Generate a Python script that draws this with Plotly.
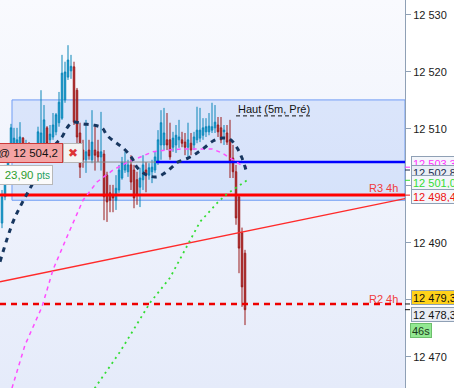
import base64
import plotly.graph_objects as go

# ---------------- data ----------------
candle_index = list(range(82))
opens = [12493.5, 12498.1, 12501.9, 12506.3, 12507.2, 12506.7, 12506.8, 12508.4, 12506.0, 12507.2,
         12505.8, 12505.4, 12506.0, 12506.8, 12506.8, 12510.2, 12508.1, 12508.6, 12509.5, 12511.1,
         12511.9, 12515.1, 12519.1, 12520.2, 12520.9, 12516.8, 12509.3, 12506.3, 12504.6, 12506.3,
         12504.6, 12506.3, 12506.0, 12505.1, 12505.6, 12501.9, 12498.8, 12498.4, 12497.5, 12499.3,
         12501.4, 12502.8, 12502.5, 12503.7, 12502.8, 12501.1, 12499.8, 12501.1, 12502.8, 12501.9,
         12502.5, 12502.8, 12504.2, 12507.2, 12507.2, 12508.1, 12508.1, 12506.8, 12507.2, 12508.1,
         12508.1, 12507.7, 12506.8, 12507.5, 12507.2, 12508.1, 12508.4, 12508.9, 12509.5, 12509.5,
         12509.8, 12510.2, 12510.7, 12510.2, 12509.5, 12509.3, 12508.1, 12504.9, 12502.5, 12498.1,
         12491.8, 12488.2]
highs = [12499.3, 12503.7, 12506.3, 12510.9, 12510.2, 12510.2, 12511.2, 12508.6, 12508.1, 12507.7,
         12507.2, 12507.2, 12510.4, 12516.8, 12514.2, 12510.5, 12510.7, 12512.8, 12512.8, 12516.5,
         12523.0, 12521.8, 12524.7, 12523.0, 12521.8, 12517.2, 12511.1, 12508.1, 12511.6, 12508.1,
         12513.3, 12510.4, 12508.1, 12513.0, 12506.3, 12502.5, 12500.2, 12500.2, 12501.9, 12503.7,
         12505.1, 12506.0, 12504.6, 12505.4, 12503.7, 12502.5, 12503.2, 12505.4, 12504.2, 12504.0,
         12504.6, 12506.0, 12509.8, 12513.3, 12513.7, 12512.8, 12511.1, 12509.5, 12510.7, 12511.6,
         12509.5, 12509.3, 12511.1, 12509.3, 12509.5, 12513.9, 12513.7, 12511.9, 12511.9, 12512.8,
         12514.6, 12514.2, 12512.1, 12512.1, 12510.7, 12510.7, 12511.6, 12507.2, 12503.7, 12498.4,
         12492.7, 12488.8]
lows = [12492.6, 12497.5, 12501.4, 12504.2, 12506.3, 12506.0, 12506.3, 12505.4, 12504.6, 12504.9,
        12504.6, 12504.2, 12504.9, 12506.0, 12506.3, 12506.7, 12507.2, 12508.1, 12508.9, 12510.4,
        12511.6, 12514.6, 12518.6, 12518.8, 12510.7, 12506.3, 12501.4, 12503.2, 12502.3, 12504.6,
        12504.0, 12502.7, 12504.2, 12502.7, 12494.0, 12493.7, 12495.4, 12495.4, 12495.8, 12498.8,
        12501.1, 12502.3, 12501.6, 12499.3, 12496.1, 12496.7, 12496.3, 12499.3, 12498.9, 12501.1,
        12500.5, 12502.3, 12503.7, 12504.6, 12506.3, 12506.3, 12504.6, 12506.0, 12505.8, 12506.7,
        12506.8, 12505.4, 12505.1, 12505.4, 12506.3, 12507.5, 12507.7, 12508.1, 12508.6, 12508.9,
        12509.3, 12509.3, 12508.6, 12507.5, 12507.2, 12507.2, 12501.4, 12501.4, 12493.2, 12484.7,
        12478.8, 12475.6]
closes = [12498.1, 12502.5, 12505.4, 12510.2, 12508.4, 12508.1, 12508.6, 12506.8, 12507.2, 12506.0,
          12506.8, 12506.7, 12509.5, 12509.3, 12511.6, 12507.5, 12509.1, 12510.7, 12512.5, 12514.7,
          12519.8, 12520.0, 12522.1, 12521.0, 12511.2, 12508.6, 12503.3, 12504.6, 12506.0, 12505.3,
          12507.7, 12505.4, 12505.1, 12506.0, 12498.1, 12497.2, 12497.5, 12497.9, 12499.6, 12502.8,
          12504.2, 12504.0, 12503.7, 12500.7, 12497.9, 12498.4, 12501.4, 12503.7, 12501.9, 12503.2,
          12503.3, 12505.1, 12508.1, 12511.1, 12509.3, 12507.2, 12505.1, 12508.4, 12508.9, 12508.6,
          12507.5, 12506.8, 12508.1, 12506.3, 12508.6, 12509.8, 12509.8, 12510.2, 12510.4, 12510.5,
          12510.4, 12511.2, 12509.5, 12508.1, 12509.8, 12507.7, 12504.2, 12502.5, 12494.4, 12489.1,
          12482.3, 12478.3]

# moving-average style curves (candle index, price)
navy_x = [-0.67, 3.67, 6.67, 10, 14.33, 17.67, 20, 21.67, 23.67, 27, 30.33, 33.33, 35, 37.67, 40.33,
          43.33, 45, 48.33, 51.67, 54.33, 56.67, 58.67, 62, 65, 67.67, 70.33, 73.33, 76, 78.33, 80, 81.67]
navy_y = [12486.7, 12493.7, 12497.0, 12500.2, 12504.6, 12507.2, 12508.6, 12510.2, 12511.2, 12510.9,
          12510.7, 12510.2, 12508.9, 12507.7, 12506.7, 12504.9, 12503.3, 12501.9, 12501.6, 12502.3,
          12503.3, 12504.2, 12504.9, 12505.8, 12506.8, 12507.9, 12508.4, 12508.2, 12506.7, 12504.9, 12502.2]
magenta_x = [1.0, 3.33, 7.67, 13.33, 17, 21.67, 27, 31.67, 37, 42, 46, 50.33, 55, 60.33, 66, 70,
             73.33, 77, 80, 81.67]
magenta_y = [12460.5, 12464.6, 12472.1, 12478.8, 12485.3, 12491.1, 12497.5, 12500.7, 12502.8, 12504.2,
             12505.1, 12506.0, 12506.3, 12506.5, 12506.5, 12506.5, 12505.8, 12504.6, 12503.6, 12503.3]
green_x = [29, 31, 39.33, 49.33, 56, 60.33, 66, 71.67, 75, 78.33, 81.67]
green_y = [12461.5, 12464.6, 12470.9, 12479.5, 12483.9, 12488.2, 12493.7, 12497.0, 12498.6, 12499.8, 12501.0]

x_left, x_right = -0.667, 134.333
diag_x = [x_left, x_right]
diag_y = [12483.2, 12497.8]
r3_level = 12498.4
r2_level = 12479.3
order_level = 12504.2
blue_start = 51.33
zone_x = [3.33, x_right]
zone_y = [12497.5, 12515.1]
haut_x = [78, 102.7]

ytick_vals = [12470, 12480, 12490, 12500, 12510, 12520, 12530]
ytick_text = ["12 470", "12 480", "12 490", "12 500", "12 510", "12 520", "12 530"]

# right axis price tags: value, text, text colour, background, pixel shift
tags = [
    (12503.3, "12 503,3", "#ff33ff", "#f4f6fb", 4),
    (12502.8, "12 502,8", "#1b2f50", "#e9edf5", -2),
    (12501.0, "12 501,0", "#33dd33", "#f4f6fb", -2),
    (12498.4, "12 498,4", "#ee1111", "#f4f6fb", -1),
    (12479.3, "12 479,3", "#111111", "#ffd21a", 6),
    (12478.3, "12 478,3", "#111111", "#e8ecf4", -5),
]

FONT = "Arial, Liberation Sans, sans-serif"

fig = go.Figure()

fig.add_trace(go.Candlestick(
    x=candle_index, open=opens, high=highs, low=lows, close=closes,
    increasing=dict(line=dict(color="#0b86b8", width=1), fillcolor="#22a8de"),
    decreasing=dict(line=dict(color="#9a1a1a", width=1), fillcolor="#cf4343"),
    whiskerwidth=0, hoverinfo="skip", showlegend=False,
))

line_traces = [
    (diag_x, diag_y, dict(color="#ff2a2a", width=1.3)),
    ([x_left, blue_start], [order_level, order_level], dict(color="#8a8a8a", width=1)),
    ([blue_start, x_right], [order_level, order_level], dict(color="#0000ff", width=2.6)),
    ([x_left, x_right], [r3_level, r3_level], dict(color="#ff0000", width=3)),
    ([x_left, x_right], [r2_level, r2_level], dict(color="#ee0000", width=2.5, dash="6px,5px")),
    (magenta_x, magenta_y, dict(color="#ff4dff", width=1.5, dash="4px,4px")),
    (green_x, green_y, dict(color="#33dd33", width=1.8, dash="2px,4px")),
    (navy_x, navy_y, dict(color="#17365f", width=3, dash="5px,5px", shape="spline")),
    (haut_x, [12512.3, 12512.3], dict(color="#111111", width=1, dash="4px,3px")),
]
for xs, ys, ln in line_traces:
    fig.add_trace(go.Scatter(x=xs, y=ys, mode="lines", line=ln, hoverinfo="skip",
                             showlegend=False, cliponaxis=True))

# background gradient
svg = ('<svg xmlns="http://www.w3.org/2000/svg" width="10" height="100" preserveAspectRatio="none">'
       '<defs><linearGradient id="g" x1="0" y1="0" x2="0" y2="1">'
       '<stop offset="0" stop-color="#f9fafe"/><stop offset="1" stop-color="#e5ebfa"/>'
       '</linearGradient></defs><rect width="10" height="100" fill="url(#g)"/></svg>')
uri = "data:image/svg+xml;base64," + base64.b64encode(svg.encode()).decode()

shapes = [dict(type="rect", xref="x", yref="y", x0=zone_x[0], x1=zone_x[1], y0=zone_y[0], y1=zone_y[1],
               fillcolor="rgba(90,140,240,0.16)", line=dict(color="#6f9cf5", width=1), layer="below")]
for val, text, col, bg, sh in tags:
    shapes.append(dict(type="line", xref="paper", yref="y", x0=1.0, x1=1.0 + 5 / 405, y0=val, y1=val,
                       line=dict(color=col, width=1)))

annotations = []
for val, text, col, bg, sh in tags:
    annotations.append(dict(xref="paper", x=1, xanchor="left", xshift=6, yref="y", y=val,
                            yanchor="middle", yshift=sh, text=text, showarrow=False,
                            font=dict(family=FONT, size=11, color=col), bgcolor=bg,
                            bordercolor="#8fa0b5", borderwidth=1, borderpad=1, height=11,
                            align="left"))
annotations.append(dict(xref="paper", x=1, xanchor="left", xshift=5, yref="y", y=12478.3,
                        yanchor="middle", yshift=-21, text="46s", showarrow=False,
                        font=dict(family=FONT, size=11, color="#1a3a1a"), bgcolor="#92e892",
                        bordercolor="#6cbf6c", borderwidth=1, borderpad=1, height=11))
annotations += [
    dict(xref="x", x=haut_x[0], xanchor="left", yref="y", y=12513.5, yanchor="middle",
         text="Haut (5m, Pré)", showarrow=False, font=dict(family=FONT, size=11, color="#111111")),
    dict(xref="x", x=132.67, xanchor="right", yref="y", y=12499.65, yanchor="middle",
         text="R3 4h", showarrow=False, font=dict(family=FONT, size=11, color="#f03c3c")),
    dict(xref="x", x=132.67, xanchor="right", yref="y", y=12480.2, yanchor="middle",
         text="R2 4h", showarrow=False, font=dict(family=FONT, size=11, color="#f03c3c")),
    dict(xref="paper", x=63 / 405, xanchor="right", yref="paper", y=1 - 153 / 388, yanchor="middle",
         text="2 @ 12 504,2", showarrow=False, font=dict(family=FONT, size=11.5, color="#111111"),
         bgcolor="#f4a4a4", bordercolor="#cc3a3a", borderwidth=1, borderpad=4, width=72, height=10,
         align="right"),
    dict(xref="paper", x=63 / 405, xanchor="left", yref="paper", y=1 - 153 / 388, yanchor="middle",
         text="✖", showarrow=False, font=dict(family="DejaVu Sans", size=12, color="#dd3535"),
         bgcolor="#f3f3f3", bordercolor="#b5b5b5", borderwidth=1, borderpad=2, width=14, height=14),
    dict(xref="paper", x=53 / 405, xanchor="right", yref="paper", y=1 - 175 / 388, yanchor="middle",
         text="<span style='color:#2e9e2e'>23,90</span> <span style='font-size:10px;color:#22a060'>pts</span>",
         showarrow=False, font=dict(family=FONT, size=11.5, color="#2e9e2e"),
         bgcolor="#fbfbfb", bordercolor="#b8b8b8", borderwidth=1, borderpad=2, width=50, height=14,
         align="right"),
]

fig.update_layout(
    width=454, height=388, autosize=False,
    margin=dict(l=0, r=49, t=0, b=0, pad=0),
    paper_bgcolor="#ffffff", plot_bgcolor="#eef2fc",
    showlegend=False,
    images=[dict(source=uri, xref="paper", yref="paper", x=0, y=1, sizex=1, sizey=1,
                 xanchor="left", yanchor="top", sizing="stretch", layer="below")],
    shapes=shapes, annotations=annotations,
    xaxis=dict(range=[x_left, x_right], visible=False, rangeslider=dict(visible=False),
               fixedrange=True),
    yaxis=dict(side="right", range=[12464.56, 12532.63], showgrid=False, zeroline=False,
               showline=True, linecolor="#8fa0b5", linewidth=1, ticks="outside", ticklen=5,
               tickcolor="#8fa0b5", tickvals=ytick_vals, ticktext=ytick_text,
               tickfont=dict(family=FONT, size=11, color="#1a1a1a"), fixedrange=True),
)

fig.write_html("out.html")
